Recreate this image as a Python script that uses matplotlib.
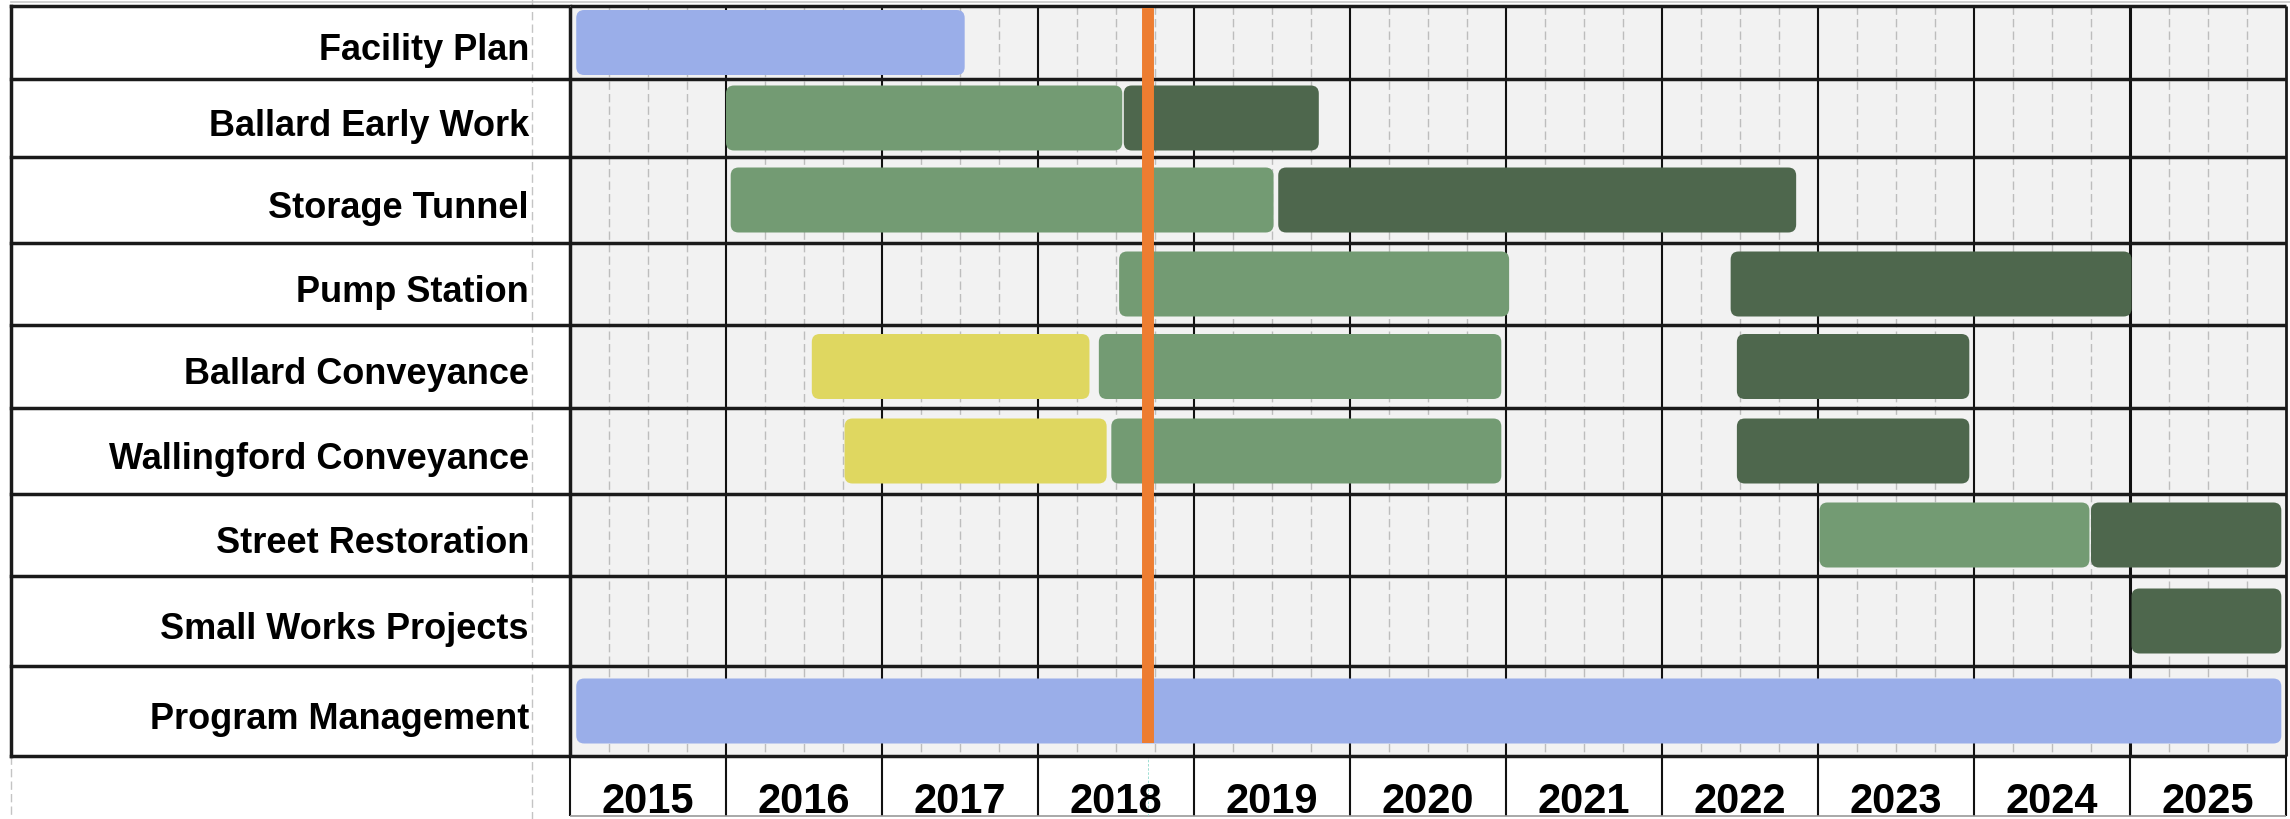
import matplotlib
matplotlib.use("Agg")
import matplotlib.pyplot as plt
from matplotlib.patches import FancyBboxPatch
from matplotlib.patches import BoxStyle

# ---------------- data ----------------
tasks = ["Facility Plan", "Ballard Early Work", "Storage Tunnel", "Pump Station",
         "Ballard Conveyance", "Wallingford Conveyance", "Street Restoration",
         "Small Works Projects", "Program Management"]
years = list(range(2015, 2026))

seg_task = [0,
            1, 1,
            2, 2,
            3, 3,
            4, 4, 4,
            5, 5, 5,
            6, 6,
            7,
            8]
seg_start = [2015.04,
             2016.00, 2018.55,
             2016.03, 2019.54,
             2018.52, 2022.44,
             2016.55, 2018.39, 2022.48,
             2016.76, 2018.47, 2022.48,
             2023.01, 2024.75,
             2025.01,
             2015.04]
seg_end = [2017.53,
           2018.54, 2019.80,
           2019.51, 2022.86,
           2021.02, 2025.01,
           2018.33, 2020.97, 2023.97,
           2018.44, 2020.97, 2023.97,
           2024.74, 2025.97,
           2025.97,
           2025.97]
seg_phase = ["Planning",
             "Design", "Construction",
             "Design", "Construction",
             "Design", "Construction",
             "Pre-design", "Design", "Construction",
             "Pre-design", "Design", "Construction",
             "Design", "Construction",
             "Construction",
             "Planning"]
today = 2018.705

phase_colors = {"Planning": "#9aaee9", "Pre-design": "#dfd760",
                "Design": "#739b73", "Construction": "#4e674d"}

# ---------------- layout (pixels) ----------------
W, H = 2290, 820
row_edges = [7, 80, 158, 244, 326, 409, 495, 577, 667, 757]
chart_l, chart_r = 570, 2286
axis_bottom = 817
bar_h = 65
label_x = 529
FONT = ["Liberation Sans", "DejaVu Sans"]
LW_ROW = 2.5
LW_YEAR = 1.5

fig = plt.figure(figsize=(W / 100, H / 100), dpi=100)
fig.patch.set_facecolor("white")

# background axes in pixel units
bg = fig.add_axes([0, 0, 1, 1], zorder=0)
bg.set_xlim(0, W)
bg.set_ylim(H, 0)
bg.axis("off")

bg.plot([11, W], [3, 3], color="#c8c8c8", lw=1.2)
bg.plot([532, 532], [0, H], color="#c4c4c4", lw=1.0, ls=(0, (6, 3)))
bg.plot([11, 11], [row_edges[-1], H], color="#c4c4c4", lw=1.0, ls=(0, (6, 3)))
bg.plot([11, 11], [row_edges[0], row_edges[-1]], color="#1a1a1a", lw=LW_ROW,
        solid_capstyle="projecting")
for e in row_edges:
    bg.plot([11, chart_l], [e, e], color="#1a1a1a", lw=LW_ROW, solid_capstyle="projecting")
for i, name in enumerate(tasks):
    c = (row_edges[i] + row_edges[i + 1]) / 2
    bg.text(label_x, c + 17, name, ha="right", va="baseline", fontsize=26,
            fontweight="bold", family=FONT, color="black")

# main chart axes: x in years, y in pixels
ax = fig.add_axes([chart_l / W, 1 - row_edges[-1] / H, (chart_r - chart_l) / W,
                   (row_edges[-1] - row_edges[0]) / H], zorder=2)
ax.set_facecolor("#f2f2f2")
ax.set_xlim(years[0], years[-1] + 1)
ax.set_ylim(row_edges[-1], row_edges[0])
for s in ax.spines.values():
    s.set_visible(False)
ax.set_xticks([])
ax.set_yticks([])

quarters = [y + q for y in years for q in (0.25, 0.5, 0.75)]
ax.vlines(quarters, row_edges[0], row_edges[-1], colors="#bdbdbd", lw=1.0,
          linestyles=(0, (6, 3)), zorder=1)
inner_years = [y for y in years[1:]]
ax.vlines(inner_years, row_edges[0], row_edges[-1],
          colors="#111111", lw=[2.2 if y == 2025 else LW_YEAR for y in inner_years], zorder=2)
ax.vlines([years[0]], row_edges[0], row_edges[-1], colors="#1a1a1a", lw=LW_ROW,
          zorder=2, clip_on=False)
ax.vlines([years[-1] + 1], row_edges[0], row_edges[-1], colors="#1a1a1a", lw=2.0,
          zorder=2, clip_on=False)
ax.hlines(row_edges, years[0], years[-1] + 1, colors="#1a1a1a", lw=LW_ROW, zorder=3,
          clip_on=False)

px_per_year = (chart_r - chart_l) / (years[-1] + 1 - years[0])
r_x = 8 / px_per_year
for t, s0, s1, ph in zip(seg_task, seg_start, seg_end, seg_phase):
    c = (row_edges[t] + row_edges[t + 1]) / 2
    p = FancyBboxPatch((s0, c - bar_h / 2), s1 - s0, bar_h,
                       boxstyle=BoxStyle.Round(pad=0, rounding_size=r_x),
                       mutation_aspect=px_per_year,
                       facecolor=phase_colors[ph], edgecolor="none", zorder=4)
    ax.add_patch(p)

ax.plot([today, today], [9, 744], color="#ed7d31", lw=8.6, solid_capstyle="butt", zorder=6)

# year axis row
xa = fig.add_axes([chart_l / W, 1 - axis_bottom / H, (chart_r - chart_l) / W,
                   (axis_bottom - row_edges[-1]) / H], zorder=1)
xa.set_facecolor("white")
xa.set_xlim(years[0], years[-1] + 1)
xa.set_ylim(0, 1)
for s in xa.spines.values():
    s.set_visible(False)
xa.set_xticks([])
xa.set_yticks([])
xa.vlines(years + [years[-1] + 1], 0, 1, colors="#111111", lw=LW_YEAR, clip_on=False)
xa.hlines([0], years[0], years[-1] + 1, colors="#9a9a9a", lw=1.2, clip_on=False)
xa.plot([today, today], [0, 1], color="#8fd9cc", lw=0.6, ls=(0, (3, 2)))
base_y = (axis_bottom - 813) / (axis_bottom - row_edges[-1])
for y in years:
    xa.text(y + 0.5, base_y, str(y), ha="center", va="baseline", fontsize=30,
            fontweight="bold", family=FONT, color="black")

fig.savefig("out.png", dpi=100, facecolor="white")
